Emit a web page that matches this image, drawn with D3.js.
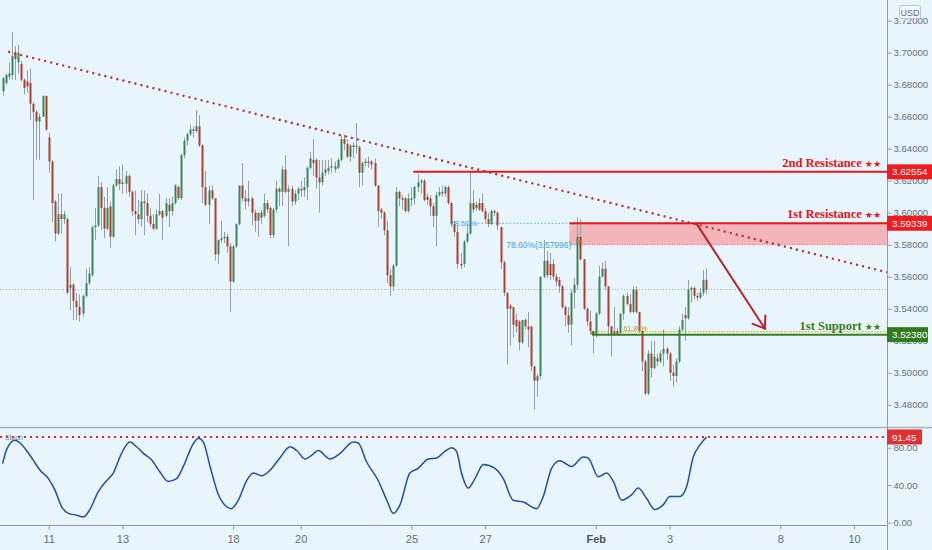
<!DOCTYPE html>
<html><head><meta charset="utf-8">
<script src="https://cdn.jsdelivr.net/npm/d3@7/dist/d3.min.js"></script>
<style>
html,body{margin:0;padding:0;background:#e9f5fc;}
svg{display:block;font-family:"Liberation Sans",Arial,sans-serif;}
</style></head><body>
<svg id="chart" width="932" height="550"></svg>
<script>
// ---- DATA (2H candles, index 0 = first bar on the left) ----
const candleOpen = [
3.676,3.681,3.685,3.686,3.700,3.694,3.693,3.683,3.682,3.681,
3.668,3.663,3.657,3.660,3.673,3.647,3.632,3.607,3.587,3.599,
3.596,3.596,3.553,3.555,3.545,3.541,3.537,3.548,3.556,3.561,
3.591,3.592,3.616,3.603,3.590,3.604,3.585,3.617,3.621,3.618,
3.618,3.623,3.613,3.601,3.599,3.596,3.607,3.606,3.598,3.593,
3.590,3.599,3.601,3.598,3.605,3.601,3.606,3.616,3.609,3.636,
3.645,3.649,3.652,3.651,3.654,3.642,3.616,3.605,3.614,3.609,
3.574,3.583,3.584,3.585,3.579,3.557,3.579,3.593,3.617,3.609,
3.607,3.609,3.600,3.595,3.600,3.598,3.606,3.603,3.586,3.602,
3.615,3.613,3.627,3.613,3.615,3.607,3.612,3.615,3.614,3.616,
3.628,3.633,3.633,3.622,3.619,3.625,3.626,3.628,3.627,3.628,
3.633,3.646,3.643,3.635,3.642,3.641,3.641,3.625,3.631,3.632,
3.632,3.631,3.617,3.602,3.600,3.589,3.561,3.554,3.567,3.613,
3.609,3.609,3.601,3.608,3.609,3.616,3.619,3.620,3.610,3.609,
3.604,3.598,3.611,3.613,3.612,3.616,3.606,3.593,3.588,3.568,
3.568,3.582,3.587,3.606,3.603,3.606,3.606,3.601,3.596,3.593,
3.601,3.600,3.591,3.569,3.550,3.542,3.541,3.533,3.532,3.519,
3.533,3.529,3.529,3.504,3.495,3.498,3.560,3.570,3.568,3.568,
3.560,3.558,3.554,3.541,3.536,3.530,3.550,3.555,3.585,3.571,
3.540,3.532,3.526,3.524,3.537,3.560,3.565,3.554,3.529,3.524,
3.526,3.525,3.537,3.548,3.543,3.538,3.552,3.538,3.526,3.507,
3.487,3.512,3.503,3.509,3.507,3.512,3.515,3.512,3.500,3.498,
3.507,3.527,3.536,3.534,3.552,3.553,3.548,3.547,3.550,3.558];
const candleHigh = [
3.685,3.687,3.694,3.713,3.704,3.705,3.695,3.684,3.689,3.690,
3.669,3.664,3.662,3.673,3.673,3.650,3.633,3.608,3.612,3.612,
3.601,3.597,3.566,3.556,3.550,3.549,3.549,3.565,3.566,3.592,
3.603,3.623,3.619,3.610,3.616,3.607,3.618,3.627,3.629,3.630,
3.626,3.624,3.614,3.614,3.608,3.614,3.614,3.612,3.603,3.599,
3.602,3.612,3.602,3.609,3.609,3.610,3.618,3.617,3.637,3.647,
3.650,3.655,3.654,3.664,3.661,3.643,3.626,3.617,3.617,3.609,
3.583,3.595,3.588,3.587,3.581,3.580,3.593,3.617,3.631,3.614,
3.620,3.610,3.602,3.600,3.602,3.612,3.608,3.604,3.603,3.620,
3.616,3.629,3.636,3.617,3.617,3.614,3.616,3.620,3.622,3.629,
3.638,3.646,3.634,3.633,3.633,3.633,3.633,3.634,3.632,3.634,
3.648,3.649,3.646,3.643,3.644,3.656,3.642,3.632,3.634,3.635,
3.633,3.634,3.617,3.603,3.601,3.595,3.565,3.568,3.616,3.614,
3.611,3.610,3.612,3.616,3.617,3.624,3.621,3.621,3.612,3.611,
3.606,3.613,3.616,3.617,3.617,3.617,3.607,3.595,3.592,3.575,
3.583,3.593,3.626,3.614,3.607,3.609,3.612,3.603,3.600,3.602,
3.602,3.601,3.591,3.570,3.550,3.543,3.541,3.537,3.533,3.533,
3.534,3.538,3.529,3.504,3.499,3.560,3.583,3.576,3.575,3.571,
3.562,3.560,3.555,3.542,3.541,3.552,3.559,3.597,3.596,3.571,
3.541,3.539,3.526,3.538,3.567,3.569,3.570,3.554,3.529,3.541,
3.528,3.537,3.549,3.550,3.549,3.554,3.554,3.538,3.527,3.508,
3.514,3.520,3.520,3.512,3.514,3.527,3.516,3.513,3.505,3.509,
3.529,3.537,3.541,3.558,3.554,3.554,3.550,3.553,3.564,3.565];
const candleLow = [
3.673,3.680,3.683,3.683,3.683,3.687,3.682,3.674,3.675,3.658,
3.608,3.633,3.633,3.660,3.651,3.625,3.594,3.582,3.586,3.587,
3.593,3.549,3.539,3.533,3.533,3.532,3.535,3.547,3.555,3.560,
3.583,3.591,3.589,3.584,3.589,3.578,3.584,3.616,3.614,3.612,
3.612,3.610,3.598,3.586,3.593,3.591,3.586,3.594,3.591,3.589,
3.589,3.598,3.583,3.597,3.591,3.598,3.605,3.608,3.608,3.634,
3.642,3.648,3.647,3.650,3.641,3.606,3.604,3.593,3.608,3.570,
3.568,3.581,3.581,3.575,3.538,3.556,3.578,3.592,3.607,3.602,
3.604,3.592,3.588,3.585,3.593,3.597,3.600,3.584,3.584,3.600,
3.604,3.604,3.612,3.579,3.604,3.605,3.608,3.610,3.610,3.608,
3.627,3.623,3.615,3.600,3.617,3.623,3.624,3.625,3.625,3.627,
3.632,3.639,3.634,3.632,3.634,3.637,3.616,3.617,3.629,3.628,
3.627,3.616,3.591,3.596,3.586,3.556,3.548,3.551,3.566,3.604,
3.602,3.600,3.600,3.604,3.605,3.613,3.612,3.607,3.605,3.598,
3.591,3.579,3.610,3.610,3.610,3.605,3.591,3.585,3.565,3.565,
3.566,3.581,3.586,3.600,3.601,3.601,3.600,3.594,3.591,3.592,
3.598,3.589,3.565,3.548,3.505,3.517,3.522,3.525,3.514,3.518,
3.527,3.516,3.501,3.477,3.485,3.496,3.559,3.559,3.558,3.558,
3.554,3.550,3.540,3.529,3.525,3.517,3.540,3.552,3.570,3.539,
3.529,3.524,3.512,3.522,3.536,3.560,3.552,3.523,3.510,3.523,
3.523,3.523,3.533,3.542,3.537,3.537,3.537,3.525,3.501,3.486,
3.486,3.497,3.502,3.504,3.506,3.504,3.508,3.495,3.491,3.494,
3.506,3.526,3.520,3.533,3.544,3.546,3.545,3.546,3.548,3.549];
const candleClose = [
3.684,3.686,3.687,3.698,3.696,3.700,3.683,3.678,3.679,3.668,
3.663,3.657,3.660,3.673,3.652,3.632,3.606,3.587,3.599,3.596,
3.599,3.550,3.555,3.545,3.541,3.536,3.548,3.556,3.562,3.591,
3.592,3.616,3.603,3.590,3.603,3.585,3.617,3.621,3.618,3.619,
3.623,3.613,3.601,3.599,3.596,3.607,3.606,3.598,3.593,3.590,
3.599,3.601,3.597,3.606,3.601,3.606,3.617,3.609,3.636,3.645,
3.649,3.652,3.651,3.654,3.642,3.616,3.605,3.614,3.609,3.574,
3.583,3.584,3.585,3.579,3.557,3.579,3.593,3.617,3.609,3.607,
3.609,3.600,3.595,3.600,3.597,3.606,3.602,3.586,3.602,3.615,
3.613,3.627,3.613,3.615,3.607,3.612,3.615,3.614,3.616,3.628,
3.634,3.631,3.622,3.619,3.625,3.627,3.628,3.629,3.629,3.633,
3.646,3.643,3.635,3.642,3.641,3.642,3.625,3.631,3.632,3.631,
3.630,3.617,3.601,3.600,3.589,3.561,3.554,3.567,3.613,3.609,
3.608,3.601,3.609,3.609,3.616,3.619,3.620,3.608,3.608,3.604,
3.598,3.611,3.613,3.612,3.616,3.606,3.593,3.588,3.568,3.567,
3.582,3.587,3.606,3.602,3.605,3.602,3.601,3.596,3.593,3.601,
3.600,3.592,3.569,3.550,3.540,3.540,3.530,3.529,3.519,3.533,
3.529,3.527,3.504,3.495,3.498,3.560,3.570,3.561,3.561,3.560,
3.557,3.554,3.541,3.536,3.530,3.550,3.555,3.585,3.571,3.540,
3.532,3.526,3.524,3.537,3.560,3.565,3.554,3.529,3.524,3.526,
3.524,3.537,3.548,3.543,3.538,3.552,3.538,3.526,3.507,3.487,
3.512,3.503,3.510,3.507,3.512,3.515,3.512,3.500,3.498,3.507,
3.527,3.533,3.534,3.552,3.553,3.548,3.547,3.550,3.558,3.552];

// Stochastic (bar index, value)
const stochPoints = [
[0,63],[1.3,78],[4,88],[5.7,85],[7.8,77],[9.9,67],[12.2,56],[14.9,47],[17,35],[19.2,17],
[21.4,10],[24.1,8],[26.3,6],[28.4,14],[31.1,33],[33.9,45],[36,53],[38.7,74],[41.4,86],[43.6,81],
[45.8,74],[48.5,67],[51.2,54],[53.9,44],[56.6,47],[58.8,60],[61.5,81],[63.7,90],[65.3,86],[67.5,60],
[70.2,30],[72.9,17],[74.5,15],[76.7,24],[79.4,45],[81.6,53],[84.3,50],[87,56],[90.2,69],[93.5,81],
[95.7,77],[98.4,68],[100.6,72],[102.7,77],[106.5,68],[109.8,74],[114.1,86],[115.7,85],[118.4,65],[122.2,45],
[125,24],[127.1,10],[129.3,19],[132.5,53],[135.2,58],[138.5,68],[141.2,69],[143.9,76],[146.1,80],[147.7,76],
[149.3,53],[151.5,37],[153.7,47],[156.4,62],[160.2,58],[162.9,47],[166.1,24],[169.4,22],[173.7,15],[175.9,28],
[178.6,58],[181.3,66],[185.1,60],[188.9,70],[190.5,69],[193.8,49],[196.5,53],[198.7,44],[201.4,24],[204.7,30],
[206.8,37],[209.5,26],[212.2,14],[214.9,19],[217.1,28],[220.4,28],[222.5,38],[224.7,70],[226.9,83],[229,91.45]];

const priceTicks = [3.48,3.50,3.52,3.54,3.56,3.58,3.60,3.62,3.64,3.66,3.68,3.70,3.72];
const stochTicks = [0,40,80];
const dayIdx = [15,39,75,97,133,157,193,217,253,277];
const dayLabels = ["11","13","18","20","25","27","Feb","3","8","10"];

const resistance2 = 3.62554, resistance2StartIdx = 133.6;
const resistance1 = 3.59339, fibLow = 3.57996, zoneStartIdx = 184.4, fibLineStartIdx = 154.7;
const support1 = 3.52380, fib618 = 3.5257, supportStartIdx = 191.8;
const trendIdx = [1.8, 287.7], trendPrice = [3.7006, 3.5628];
const arrowIdx = [225.8, 248.0], arrowPrice = [3.5930, 3.5276];
const stochLevel = 91.45;
const lastPrice = candleClose[candleClose.length-1];

// ---- LAYOUT ----
const W=932, H=550, axisX=887, priceBottom=427, timeY=525;
const SANS = "'Liberation Sans',Arial,sans-serif";
const x = d3.scaleLinear().domain([0,277]).range([2.6,854]);
const y = d3.scaleLinear().domain([3.4661,3.7329]).range([427,0]);
const ys = d3.scaleLinear().domain([0,100]).range([522.7,428.95]);

const svg = d3.select("#chart");
svg.append("rect").attr("width",W).attr("height",H).attr("fill","#e9f5fc");
const defs = svg.append("defs");
defs.append("clipPath").attr("id","cp").append("rect").attr("x",0).attr("y",0).attr("width",axisX).attr("height",priceBottom);
defs.append("clipPath").attr("id","cs").append("rect").attr("x",0).attr("y",priceBottom+1).attr("width",axisX).attr("height",timeY-priceBottom-1);

const gp = svg.append("g").attr("clip-path","url(#cp)");

// current price line
gp.append("line").attr("x1",0).attr("x2",axisX).attr("y1",y(lastPrice)).attr("y2",y(lastPrice))
  .attr("stroke","#a9b7c0").attr("stroke-width",1).attr("stroke-dasharray","1,2");

// resistance zone
gp.append("rect").attr("x",x(zoneStartIdx)).attr("y",y(resistance1))
  .attr("width",axisX-x(zoneStartIdx)).attr("height",y(fibLow)-y(resistance1))
  .attr("fill","#f2b5b9");
gp.append("line").attr("x1",x(zoneStartIdx)).attr("x2",axisX).attr("y1",y(fibLow)).attr("y2",y(fibLow))
  .attr("stroke","#e2737a").attr("stroke-width",1).attr("stroke-dasharray","1,1.5");
// fib blue dotted
gp.append("line").attr("x1",x(fibLineStartIdx)).attr("x2",x(zoneStartIdx)).attr("y1",y(resistance1)).attr("y2",y(resistance1))
  .attr("stroke","#54a9de").attr("stroke-width",1).attr("stroke-dasharray","1.5,2");
// 61.8 dotted
gp.append("line").attr("x1",x(supportStartIdx)).attr("x2",axisX).attr("y1",y(fib618)).attr("y2",y(fib618))
  .attr("stroke","#c9c11a").attr("stroke-width",1.2).attr("stroke-dasharray","1.5,1.5");

// candles
const idxs = d3.range(candleOpen.length);
const cg = gp.append("g");
cg.selectAll("line.w").data(idxs).join("line").attr("class","w")
  .attr("x1",i=>Math.round(x(i))+0.5).attr("x2",i=>Math.round(x(i))+0.5)
  .attr("y1",i=>y(Math.max(candleHigh[i],candleOpen[i],candleClose[i])))
  .attr("y2",i=>y(Math.min(candleLow[i],candleOpen[i],candleClose[i])))
  .attr("stroke","#939fa8").attr("stroke-width",1);
cg.selectAll("rect.b").data(idxs).join("rect").attr("class","b")
  .attr("x",i=>Math.round(x(i))-0.5).attr("width",2)
  .attr("y",i=>y(Math.max(candleOpen[i],candleClose[i])))
  .attr("height",i=>Math.max(1,Math.abs(y(candleOpen[i])-y(candleClose[i]))))
  .attr("fill",i=>candleClose[i]>=candleOpen[i]?"#3a8656":"#aa4230");

// trend line
gp.append("line").attr("x1",x(trendIdx[0])).attr("y1",y(trendPrice[0])).attr("x2",x(trendIdx[1])).attr("y2",y(trendPrice[1]))
  .attr("stroke","#b8262e").attr("stroke-width",2.2).attr("stroke-dasharray","2,4.2");

// resistance lines
gp.append("line").attr("x1",x(resistance2StartIdx)).attr("x2",axisX).attr("y1",y(resistance2)).attr("y2",y(resistance2))
  .attr("stroke","#e5161e").attr("stroke-width",2);
gp.append("line").attr("x1",x(zoneStartIdx)).attr("x2",axisX).attr("y1",y(resistance1)).attr("y2",y(resistance1))
  .attr("stroke","#e5161e").attr("stroke-width",2);
// support line
gp.append("line").attr("x1",x(supportStartIdx)).attr("x2",axisX).attr("y1",y(support1)).attr("y2",y(support1))
  .attr("stroke","#3b7d22").attr("stroke-width",2);
gp.append("line").attr("x1",x(supportStartIdx)).attr("x2",x(supportStartIdx)).attr("y1",y(fib618)).attr("y2",y(support1))
  .attr("stroke","#3b7d22").attr("stroke-width",1.5);

// arrow
const ax1=x(arrowIdx[0]), ay1=y(arrowPrice[0]), ax2=x(arrowIdx[1]), ay2=y(arrowPrice[1]);
const ang=Math.atan2(ay2-ay1,ax2-ax1), hl=13, sp=0.62;
const arrowG=gp.append("g").attr("stroke","#b82229").attr("stroke-width",2).attr("fill","none").attr("stroke-linecap","round");
arrowG.append("line").attr("x1",ax1).attr("y1",ay1).attr("x2",ax2).attr("y2",ay2);
arrowG.append("path").attr("d",`M${ax2-hl*Math.cos(ang-sp)},${ay2-hl*Math.sin(ang-sp)}L${ax2},${ay2}L${ax2-hl*Math.cos(ang+sp)},${ay2-hl*Math.sin(ang+sp)}`);

// fib labels
gp.append("text").attr("x",x(fibLineStartIdx)-1).attr("y",y(resistance1)+3).attr("text-anchor","end")
  .style("font-size","8px").attr("fill","#4a9fd8").text("78.60%");
gp.append("text").attr("x",x(zoneStartIdx)+2).attr("y",y(fibLow)+3).attr("text-anchor","end")
  .style("font-size","8.5px").attr("fill","#4a9fd8").text("78.60%(3.57996)");
gp.append("text").attr("x",x(202)).attr("y",y(fib618)-1).style("font-size","7px").attr("fill","#b0a420").text("61.80%");

// level labels
function levelLabel(txt,price,color){
  const t=gp.append("text").attr("x",881).attr("y",y(price)-5).attr("text-anchor","end")
    .style("font-family","'Liberation Serif','DejaVu Serif',serif").style("font-weight","bold")
    .style("font-size","12.5px").attr("fill",color);
  t.append("tspan").text(txt+" ");
  t.append("tspan").style("font-size","9px").style("font-family","'DejaVu Sans',sans-serif").text("★★");
}
levelLabel("2nd Resistance",resistance2,"#e3161d");
levelLabel("1st Resistance",resistance1,"#e3161d");
levelLabel("1st Support",support1,"#3a7d1f");

// ---- STOCH PANEL ----
const gs = svg.append("g").attr("clip-path","url(#cs)");
gs.append("line").attr("x1",0).attr("x2",axisX).attr("y1",ys(stochLevel)).attr("y2",ys(stochLevel))
  .attr("stroke","#d42a2a").attr("stroke-width",2).attr("stroke-dasharray","2,4");
gs.append("path").datum(stochPoints)
  .attr("d",d3.line().x(d=>x(d[0])).y(d=>ys(d[1])).curve(d3.curveMonotoneX))
  .attr("fill","none").attr("stroke","#22509c").attr("stroke-width",1.5);
svg.append("text").attr("x",5).attr("y",440).style("font-size","7px").attr("fill","#6f7d87").text("Stoch");

// ---- AXES ----
svg.append("line").attr("x1",0).attr("x2",W).attr("y1",priceBottom+0.5).attr("y2",priceBottom+0.5)
  .attr("stroke","#a8b3ba").attr("stroke-width",1.5);
svg.append("line").attr("x1",axisX+0.5).attr("x2",axisX+0.5).attr("y1",0).attr("y2",H)
  .attr("stroke","#8d9ba5").attr("stroke-width",1);

function styleAxis(g){
  g.select(".domain").remove();
  g.selectAll(".tick line").attr("stroke","#8d9ba5");
  g.selectAll(".tick text").attr("fill","#5f6f7b").style("font-size","9.6px").style("font-family",SANS);
}
const pa = svg.append("g").attr("transform",`translate(${axisX+0.5},0)`)
  .call(d3.axisRight(y).tickValues(priceTicks).tickFormat(d3.format(".5f")).tickSize(4).tickPadding(2));
styleAxis(pa);
const sa = svg.append("g").attr("transform",`translate(${axisX+0.5},0)`)
  .call(d3.axisRight(ys).tickValues(stochTicks).tickFormat(d3.format(".2f")).tickSize(4).tickPadding(2));
styleAxis(sa);

const ta = svg.append("g").attr("transform",`translate(0,${timeY+0.5})`)
  .call(d3.axisBottom(x).tickValues(dayIdx).tickFormat((d,i)=>dayLabels[i]).tickSize(4).tickPadding(6));
ta.select(".domain").remove();
ta.selectAll(".tick line").attr("stroke","#8d9ba5");
ta.selectAll(".tick text").attr("fill",(d,i)=>dayLabels[i]==="Feb"?"#4a5660":"#5f6f7b").style("font-size","11px")
  .style("font-family",SANS)
  .style("font-weight",(d,i)=>dayLabels[i]==="Feb"?"bold":"normal");
svg.append("line").attr("x1",0).attr("x2",axisX).attr("y1",timeY+0.5).attr("y2",timeY+0.5)
  .attr("stroke","#8d9ba5").attr("stroke-width",1);

// ---- AXIS VALUE TAGS ----
function tag(yy,color,w,txt){
  svg.append("rect").attr("x",axisX).attr("y",yy-7.5).attr("width",w).attr("height",15).attr("fill",color);
  svg.append("text").attr("x",axisX+5).attr("y",yy+3.6).style("font-size","9.8px").attr("fill","#ffffff")
    .style("font-family",SANS).text(txt);
}
tag(y(resistance2),"#ef1c1f",45,d3.format(".5f")(resistance2));
tag(y(resistance1),"#ef1c1f",45,d3.format(".5f")(resistance1));
tag(y(support1),"#357a1c",41,d3.format(".5f")(support1));
tag(ys(stochLevel),"#e23030",35,d3.format(".2f")(stochLevel));

// USD badge
svg.append("rect").attr("x",899.5).attr("y",5.5).attr("width",21).attr("height",13).attr("rx",2)
  .attr("fill","#f4fafd").attr("stroke","#b8c6cf");
svg.append("text").attr("x",910).attr("y",15.5).attr("text-anchor","middle").style("font-size","9px")
  .attr("fill","#5f6f7b").text("USD");
</script></body></html>
